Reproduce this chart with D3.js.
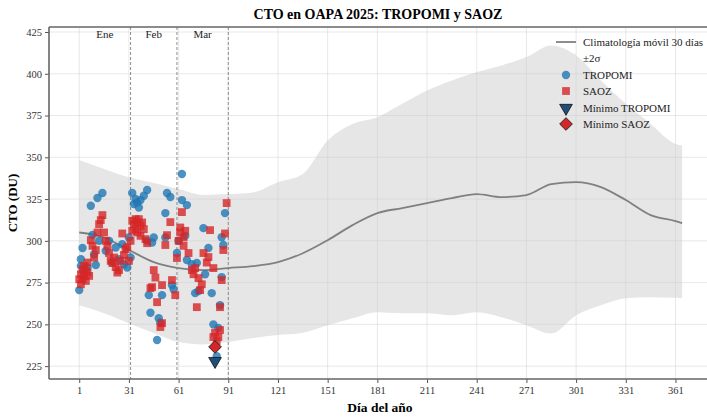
<!DOCTYPE html>
<html>
<head>
<meta charset="utf-8">
<script src="https://cdn.jsdelivr.net/npm/d3@7"></script>
<style>
  body { margin: 0; background: #fff; }
  svg { font-family: "Liberation Serif", "DejaVu Serif", serif; }
</style>
</head>
<body>
<div class="chart"></div>
<script>
(function () {

  // climatology (30-day moving)
  var climaDay   = [1, 16, 31, 46, 61, 76, 91, 106, 121, 136, 151, 166, 181, 196, 211, 226, 241, 256, 271, 286, 301, 316, 331, 346, 361, 365];
  var climaMean  = [305, 302, 294.5, 287.3, 283.7, 282.5, 283.7, 284.9, 287.3, 292.6, 300.4, 309.4, 316.6, 319.6, 322.6, 325.6, 328, 326.2, 327.4, 334, 335.2, 332.2, 324.4, 315.4, 311.8, 310.6];
  var climaUpper = [348.4, 343, 338, 334.6, 331, 327.5, 328, 329, 335, 340, 360, 370, 374, 382, 390, 396, 401, 405, 410, 417, 411, 396, 382, 370, 358, 357];
  var climaLower = [261.5, 256.7, 250.7, 244.8, 239.4, 238, 239.4, 241.8, 243.6, 245, 249.5, 253.7, 257.3, 256.7, 256.7, 255.5, 257.3, 254.3, 249.5, 244.5, 255.5, 261.5, 265.7, 266.3, 266, 265.7];

  // TROPOMI 2025
  var tropomiDay = [1, 2, 2, 3, 4, 6, 8, 9, 10, 11, 12, 13, 15, 17, 19, 21, 23, 25, 27, 28, 30, 31, 32,
                    33, 34, 35, 36, 37, 38, 40, 42, 42, 43, 44, 45, 46, 48, 49, 50, 51, 53, 53, 54, 56, 57, 58,
                    60, 61, 63, 63, 65, 66, 66, 69, 71, 72, 73, 76, 77, 79, 81, 82, 84, 85, 86, 87, 87, 88, 89];
  var tropomiCto = [270.5, 285, 289, 295.7, 281, 284, 321, 303.5, 292, 285.5, 325.6, 300, 328.6, 294, 300, 287, 296, 289, 298, 286, 284, 302, 290,
                    328.6, 322, 325, 323, 320, 324.4, 327, 330.4, 300, 267.5, 257, 299, 302, 240.6, 253.7, 251, 267.5, 302, 316.6, 328.6, 326.2, 273.5, 271,
                    292.7, 300, 340, 324.4, 303, 321.4, 288.5, 286, 268.7, 286.7, 270, 307.6, 280, 295.7, 268.7, 250, 231, 247.8, 261.5, 278.3, 302.2, 297.5, 316.6];

  // SAOZ 2025
  var saozDay = [1, 2, 2, 3, 3, 4, 4, 5, 5, 6, 6, 7, 8, 9, 10, 11, 12, 13, 14, 15, 16, 17, 18, 19, 20, 21, 22, 23, 24, 25, 26, 27, 28, 29, 30, 31, 32,
                 33, 33, 34, 35, 35, 36, 36, 37, 38, 38, 39, 40, 41, 42, 44, 45, 46, 47, 48, 50, 51, 51, 53, 54, 56, 57, 59,
                 60, 61, 62, 62, 63, 64, 64, 65, 67, 69, 70, 71, 72, 73, 74, 75, 76, 78, 79, 80, 82, 82, 83, 84, 85, 86, 86, 87, 88, 89, 90];
  var saozCto = [277, 280, 274, 283, 277, 285, 279, 282, 276, 287, 281, 279, 300.4, 297, 290, 294.5, 305, 310, 312.4, 315.4, 305, 300, 297, 292.7, 288, 286.7, 290, 284.3, 281, 282.5, 288, 304.4, 291.5, 295, 296.2, 288, 300,
                 312, 306, 310, 313, 307, 311, 305, 313, 309, 303, 311, 307, 301, 298.6, 271.7, 272.3, 282.5, 278, 263.3, 248.4, 250.7, 273.5, 297.5, 303.4, 311.2, 276.5, 267.5,
                 289.7, 300, 305, 308, 317.2, 302, 297, 306, 292.7, 282.5, 280, 283.7, 260.3, 277.7, 270.5, 274, 292.7, 287, 290.3, 306.4, 283.7, 242.4, 245, 240, 242.4, 246.6, 260.3, 276.5, 294.5, 304.4, 322.6];

  // minimums
  var minTropomi = { day: 83, cto: 228 };
  var minSaoz = { day: 83, cto: 236.5 };

  // month boundaries
  var monthNames = ["Ene", "Feb", "Mar"];
  var monthStart = [1, 32, 60, 91];

  var xTicks = d3.range(1, 366, 30);
  var yTicks = d3.range(225, 426, 25);

  var width = 707, height = 417;
  var left = 49, right = 714, top = 27, bottom = 379;

  var svg = d3.select(".chart")
    .append("svg")
    .attr("width", width)
    .attr("height", height);

  var x = d3.scaleLinear().domain([-17.25, 384.25]).range([left, right]);
  var y = d3.scaleLinear().domain([217.3, 428]).range([bottom, top]);

  var blue = "#1f77b4", red = "#d62728";

  // climatology band
  var clima = climaDay.map(function (d, i) {
    return { day: d, mean: climaMean[i], up: climaUpper[i], lo: climaLower[i] };
  });

  svg.append("path")
    .datum(clima)
    .attr("fill", "#e6e6e6")
    .attr("d", d3.area()
      .curve(d3.curveMonotoneX)
      .x(function (d) { return x(d.day); })
      .y0(function (d) { return y(d.lo); })
      .y1(function (d) { return y(d.up); }));

  // grid
  var grid = svg.append("g").attr("stroke", "#cfcfcf").attr("stroke-opacity", 0.6).attr("stroke-width", 0.8);
  grid.selectAll(".gx").data(xTicks).enter().append("line")
    .attr("x1", d => x(d)).attr("x2", d => x(d)).attr("y1", top).attr("y2", bottom);
  grid.selectAll(".gy").data(yTicks).enter().append("line")
    .attr("x1", left).attr("x2", right).attr("y1", d => y(d)).attr("y2", d => y(d));

  // mean line
  svg.append("path")
    .datum(clima)
    .attr("fill", "none")
    .attr("stroke", "#808080")
    .attr("stroke-width", 1.8)
    .attr("d", d3.line()
      .curve(d3.curveMonotoneX)
      .x(function (d) { return x(d.day); })
      .y(function (d) { return y(d.mean); }));

  // month dividers
  svg.selectAll(".month-line")
    .data(monthStart.slice(1))
    .enter().append("line")
    .attr("x1", d => x(d)).attr("x2", d => x(d))
    .attr("y1", top).attr("y2", bottom)
    .attr("stroke", "#808080")
    .attr("stroke-width", 0.9)
    .attr("stroke-dasharray", "3,2");

  svg.selectAll(".month-label")
    .data(monthNames)
    .enter().append("text")
    .attr("x", (d, i) => x((monthStart[i] + monthStart[i + 1]) / 2))
    .attr("y", 38)
    .attr("text-anchor", "middle")
    .attr("font-size", 11)
    .attr("fill", "#222")
    .text(d => d);

  // TROPOMI points
  svg.append("g").selectAll("circle")
    .data(tropomiDay)
    .enter().append("circle")
    .attr("cx", d => x(d))
    .attr("cy", (d, i) => y(tropomiCto[i]))
    .attr("r", 4.2)
    .attr("fill", blue)
    .attr("fill-opacity", 0.8);

  // SAOZ points
  svg.append("g").selectAll("rect")
    .data(saozDay)
    .enter().append("rect")
    .attr("x", d => x(d) - 3.9)
    .attr("y", (d, i) => y(saozCto[i]) - 3.9)
    .attr("width", 7.8)
    .attr("height", 7.8)
    .attr("fill", red)
    .attr("fill-opacity", 0.8);

  // minimum markers
  var tri = d3.symbol().type(d3.symbolTriangle).size(70);
  svg.append("path")
    .attr("d", tri())
    .attr("transform", "translate(" + x(minTropomi.day) + "," + y(minTropomi.cto) + ") rotate(180)")
    .attr("fill", "#1f4e79")
    .attr("stroke", "#111")
    .attr("stroke-width", 0.8);

  var dia = d3.symbol().type(d3.symbolSquare).size(80);
  svg.append("path")
    .attr("d", dia())
    .attr("transform", "translate(" + x(minSaoz.day) + "," + y(minSaoz.cto) + ") rotate(45)")
    .attr("fill", red)
    .attr("stroke", "#222")
    .attr("stroke-width", 0.9);

  // axes
  var axisColor = "#555";
  var gx = svg.append("g")
    .attr("transform", "translate(0," + bottom + ")")
    .call(d3.axisBottom(x).tickValues(xTicks).tickSize(4).tickPadding(4));
  var gy = svg.append("g")
    .attr("transform", "translate(" + left + ",0)")
    .call(d3.axisLeft(y).tickValues(yTicks).tickSize(4).tickPadding(3));
  [gx, gy].forEach(function (g) {
    g.select(".domain").remove();
    g.selectAll("line").attr("stroke", axisColor);
    g.selectAll("text").attr("font-family", "Liberation Serif, serif").attr("font-size", 10.5).attr("fill", "#333");
  });

  // spines
  var spines = svg.append("g").attr("stroke", "#666").attr("stroke-width", 1.6);
  spines.append("line").attr("x1", left).attr("x2", right).attr("y1", bottom).attr("y2", bottom);
  spines.append("line").attr("x1", left).attr("x2", right).attr("y1", top).attr("y2", top);
  spines.append("line").attr("x1", left).attr("x2", left).attr("y1", top).attr("y2", bottom);

  // title and labels
  svg.append("text")
    .attr("x", 378).attr("y", 19)
    .attr("text-anchor", "middle")
    .attr("font-weight", "bold")
    .attr("font-size", 14)
    .text("CTO en OAPA 2025: TROPOMI y SAOZ");

  svg.append("text")
    .attr("x", 380).attr("y", 412)
    .attr("text-anchor", "middle")
    .attr("font-weight", "bold")
    .attr("font-size", 13.5)
    .text("Día del año");

  svg.append("text")
    .attr("transform", "translate(17," + ((top + bottom) / 2) + ") rotate(-90)")
    .attr("text-anchor", "middle")
    .attr("font-weight", "bold")
    .attr("font-size", 13)
    .text("CTO (DU)");

  // legend
  var lg = svg.append("g").attr("transform", "translate(566,0)");
  var rows = [42, 58, 75, 91, 108, 124];
  var labels = ["Climatología móvil 30 días", "±2σ", "TROPOMI", "SAOZ", "Mínimo TROPOMI", "Mínimo SAOZ"];

  lg.append("line").attr("x1", -10).attr("x2", 10).attr("y1", rows[0]).attr("y2", rows[0])
    .attr("stroke", "#808080").attr("stroke-width", 1.8);
  lg.append("rect").attr("x", -10).attr("y", rows[1] - 4).attr("width", 20).attr("height", 8)
    .attr("fill", "#e6e6e6");
  lg.append("circle").attr("cx", 0).attr("cy", rows[2]).attr("r", 4.2).attr("fill", blue).attr("fill-opacity", 0.8);
  lg.append("rect").attr("x", -3.9).attr("y", rows[3] - 3.9).attr("width", 7.8).attr("height", 7.8)
    .attr("fill", red).attr("fill-opacity", 0.8);
  lg.append("path").attr("d", tri()).attr("transform", "translate(0," + rows[4] + ") rotate(180)")
    .attr("fill", "#1f4e79").attr("stroke", "#111").attr("stroke-width", 0.8);
  lg.append("path").attr("d", dia()).attr("transform", "translate(0," + rows[5] + ") rotate(45)")
    .attr("fill", red).attr("stroke", "#222").attr("stroke-width", 0.9);

  lg.selectAll(".lgtext")
    .data(labels)
    .enter().append("text")
    .attr("x", 17)
    .attr("y", (d, i) => rows[i] + 3.8)
    .attr("font-size", 11)
    .attr("fill", "#222")
    .text(d => d);

})();
</script>
</body>
</html>
